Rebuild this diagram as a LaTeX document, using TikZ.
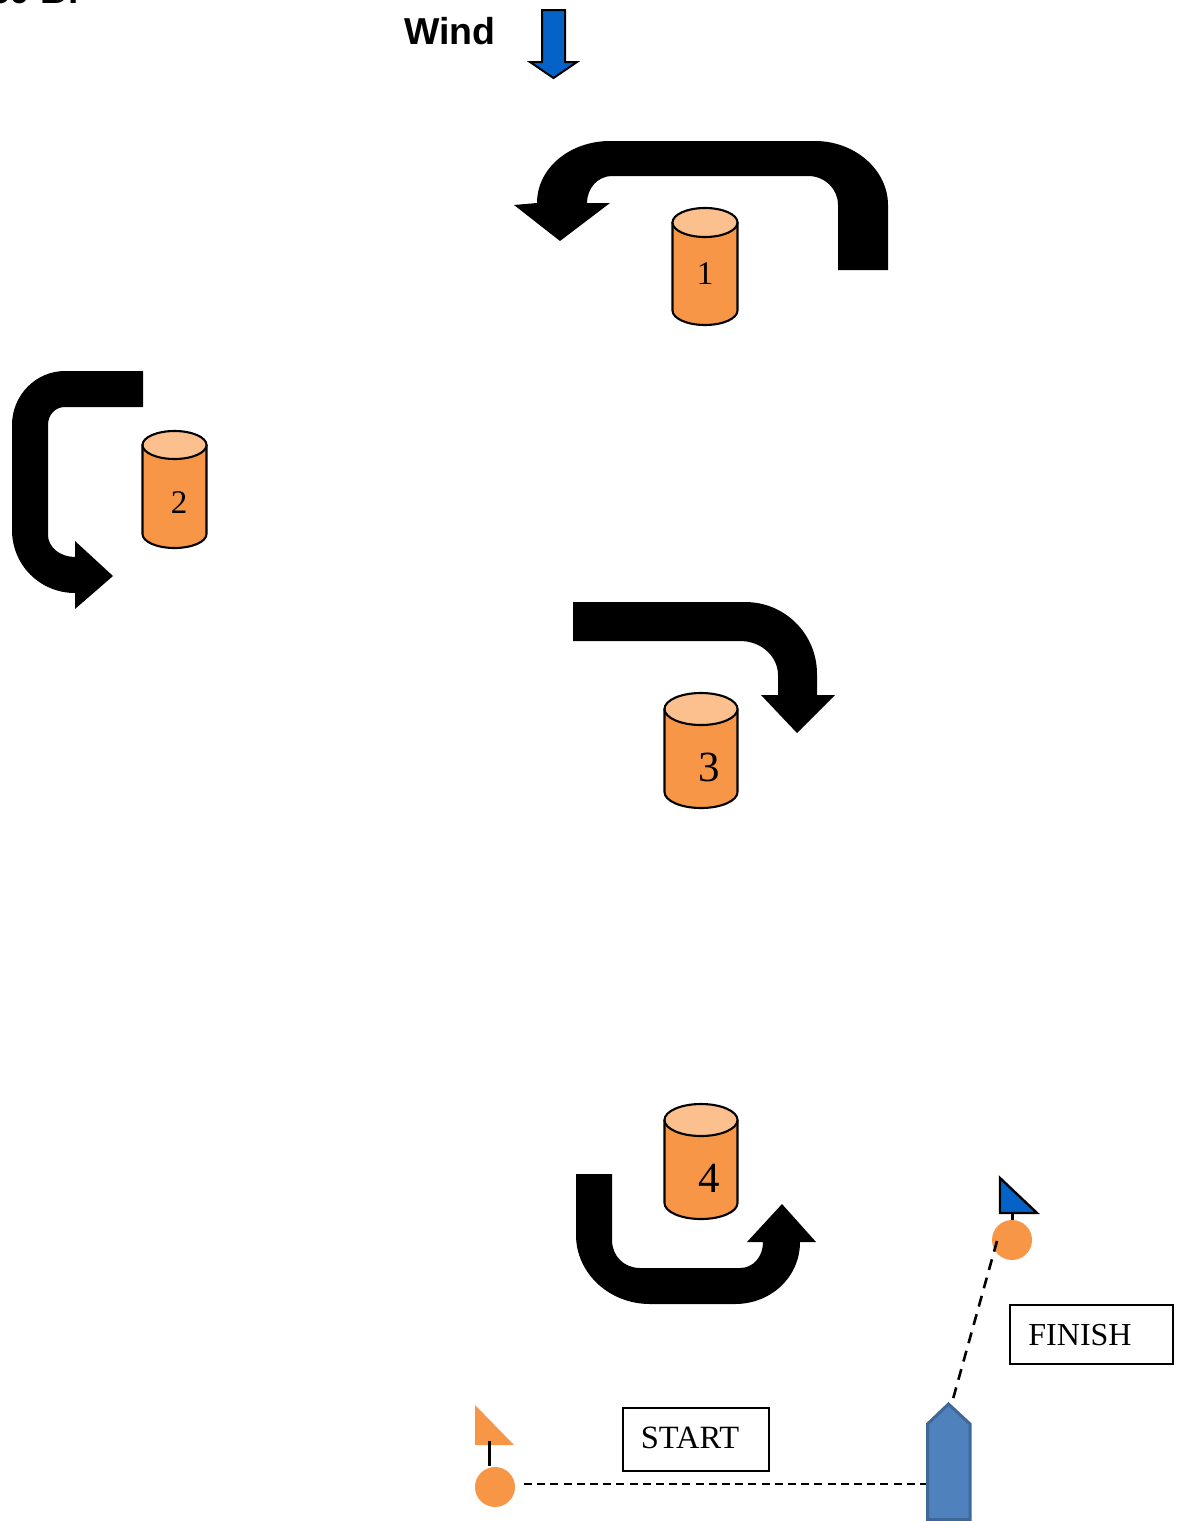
\documentclass[tikz,border=0pt]{standalone}
\usepackage{fontspec}
\setmainfont{Liberation Serif}
\newfontfamily\arialfont{Liberation Sans}
\definecolor{buoyorange}{HTML}{F79646}
\definecolor{buoytop}{HTML}{FBC08E}
\definecolor{boatblue}{HTML}{4F81BD}
\definecolor{boatedge}{HTML}{3F6797}
\definecolor{windblue}{HTML}{0563C8}
\newcommand{\fsz}[1]{\fontsize{#1}{#1}\selectfont}
\newcommand{\markcyl}[9]{%
  % name, xleft, xright, ytop, ellipse height, ybottom, label, label pos, size
  \pgfmathsetmacro{\rxx}{(#3-#2)/2}\pgfmathsetmacro{\ryy}{#5/2}
  \pgfmathsetmacro{\cxx}{(#3+#2)/2}\pgfmathsetmacro{\cyy}{#4+#5/2}
  \pgfmathsetmacro{\byy}{#6-#5/2}
  \draw[cylbody] (#2,\cyy) -- (#2,\byy) arc[start angle=180,end angle=360,x radius=\rxx pt,y radius=\ryy pt] -- (#3,\cyy) -- cycle;
  \draw[cyltop] (\cxx,\cyy) ellipse[x radius=\rxx pt,y radius=\ryy pt];
  \node[cyllabel,font=\fsz{#9}] (#1) at #8 {#7};
}
\tikzset{
  cylbody/.style={fill=buoyorange,draw=black,line width=2.1pt,line join=round},
  cyltop/.style={fill=buoytop,draw=black,line width=2.1pt},
  cyllabel/.style={inner sep=0pt,text=black},
  turnarrow/.style={fill=black,draw=none},
  buoy/.style={circle,fill=buoyorange,draw=none,minimum size=40pt,inner sep=0pt},
  labelbox/.style={draw=black,line width=2pt,fill=white,inner sep=0pt},
  flagpole/.style={draw=black,line width=3pt},
  startline/.style={draw=black,line width=2.8pt,dash pattern=on 8pt off 5.2pt},
  finishline/.style={draw=black,line width=2.6pt,dash pattern=on 11pt off 8pt},
}
\begin{document}
\begin{tikzpicture}[x=1pt,y=-1pt]
\useasboundingbox (0,0) rectangle (1178,1521);
\clip (0,0) rectangle (1178,1521);
% cut-off heading
\node[anchor=base west,inner sep=0pt,font=\arialfont\bfseries\fsz{37}] (heading) at (-11,3.5) {30 B:};
% wind
\node[anchor=base west,inner sep=0pt,font=\arialfont\bfseries\fsz{37.5}] (wind) at (404,44.5) {Wind};
\draw[fill=windblue,draw=black,line width=2pt,line join=miter] (542,10) -- (565,10) -- (565,62) -- (577,62) -- (553.5,78) -- (530,62) -- (542,62) -- cycle;
% turn arrow 1
\fill[turnarrow] (888,270) -- (888,205) .. controls (888,170) and (855,141) .. (815,141) -- (610,141)
  .. controls (570,141) and (537,168) .. (537,203) -- (514,205) -- (560,241) -- (610,203) -- (587,203)
  .. controls (587,188) and (598,176) .. (612,176) -- (808,176) .. controls (825,176) and (838,189) .. (838,205) -- (838,270) -- cycle;
% turn arrow 2
\fill[turnarrow] (143,371) -- (65,371) .. controls (36,371) and (12,395) .. (12,425) -- (12,530)
  .. controls (12,565) and (40,593) .. (75,593) -- (75,609) -- (113,576) -- (75,541) -- (75,557)
  .. controls (60,557) and (48,547) .. (48,535) -- (48,425) .. controls (48,415) and (55,407) .. (65,407) -- (143,407) -- cycle;
% turn arrow 3
\fill[turnarrow] (573,602) -- (745,602) .. controls (785,602) and (817,634) .. (817,674) -- (817,695) -- (835,695) -- (797,733) -- (761,695) -- (778,695) -- (778,675)
  .. controls (778,657) and (762,641) .. (740,641) -- (573,641) -- cycle;
% turn arrow 4
\fill[turnarrow] (576,1174) -- (576,1235) .. controls (576,1273) and (609,1304) .. (650,1304) -- (735,1304)
  .. controls (771,1304) and (800,1277) .. (800,1242) -- (816,1242) -- (782,1204) -- (747,1242) -- (763,1242)
  .. controls (763,1257) and (753,1268) .. (740,1268) -- (640,1268) .. controls (624,1268) and (612,1256) .. (612,1240) -- (612,1174) -- cycle;
% marks
\markcyl{markone}{672.5}{737.5}{208}{29}{325}{1}{(705,274)}{33}
\markcyl{marktwo}{142.5}{206.5}{431}{28}{548}{2}{(179,503)}{33}
\markcyl{markthree}{664.5}{737.5}{693}{32}{808}{3}{(709,767)}{43}
\markcyl{markfour}{664.5}{737.5}{1104}{32}{1219}{4}{(709,1178)}{43}
% finish buoy and flag
\fill[fill=windblue,draw=black,line width=2.4pt,line join=miter] (1000,1178) -- (1037,1213) -- (1000,1213) -- cycle;
\node[buoy] (finishbuoy) at (1012,1240) {};
\coordinate (finishflag) at (1012,1213);
\draw[flagpole] (finishflag) -- (finishbuoy.north);
% start buoy and flag
\fill[buoyorange] (475,1405) -- (514,1445) -- (475,1445) -- cycle;
\node[buoy] (startbuoy) at (495,1487) {};
\coordinate (startpoletop) at (489,1441);
\coordinate (startpolebottom) at (489,1466);
\draw[flagpole] (startpoletop) -- (startpolebottom);
% boat
\draw[fill=boatblue,draw=boatedge,line width=3pt,line join=miter] (927.5,1519.5) -- (927.5,1424) -- (948.5,1404) -- (970,1424) -- (970,1519.5) -- cycle;
\coordinate (boatside) at (926,1484);
\coordinate (boatbow) at (953,1399);
\coordinate (startend) at (524,1484);
\coordinate (finishend) at (997,1241);
\draw[startline] (startend) -- (boatside);
\draw[finishline] (finishend) -- (boatbow);
% labels
\node[labelbox,minimum width=146pt,minimum height=63pt] (startbox) at (696,1439.5) {};
\node[inner sep=0pt,font=\fsz{32.5}] (starttext) at (690,1438) {START};
\node[labelbox,minimum width=163pt,minimum height=59pt] (finishbox) at (1091.5,1334.5) {};
\node[inner sep=0pt,font=\fsz{32}] (finishtext) at (1080,1335) {FINISH};
\end{tikzpicture}
\end{document}
